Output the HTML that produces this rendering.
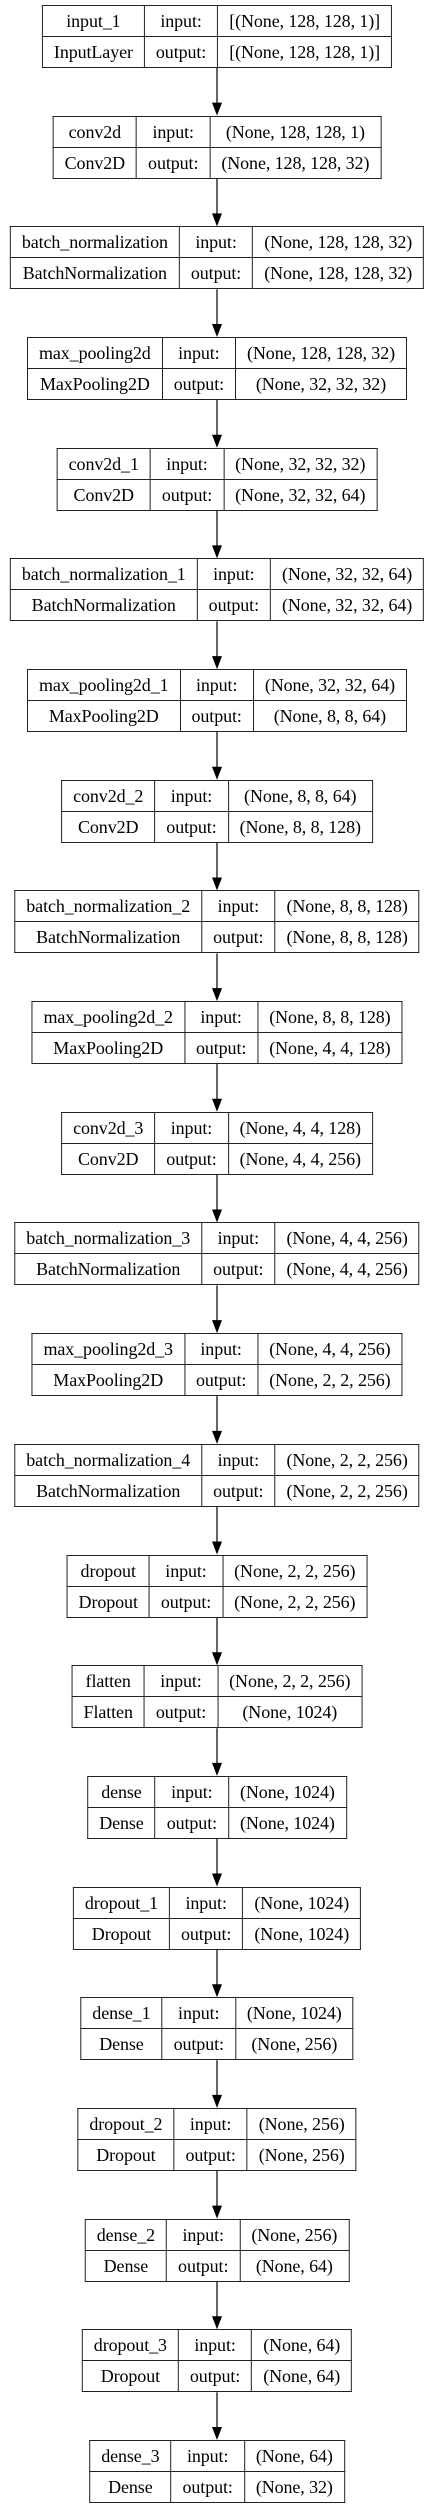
<!DOCTYPE html>
<html><head><meta charset="utf-8">
<style>
html,body{margin:0;padding:0;background:#fff;}
body{width:435px;height:2508px;position:relative;overflow:hidden;font-family:"Liberation Serif",serif;}
table.box{position:absolute;left:217px;transform:translateX(-50%);border-collapse:collapse;background:#fff;font-size:18px;color:#000;}
table.box td{border:1px solid #222;height:30px;line-height:30px;padding:0 11px;text-align:center;white-space:nowrap;letter-spacing:-0.1px;}
svg{position:absolute;left:0;top:0;}
</style></head>
<body>
<svg id="arrows" width="435" height="2508"></svg>
<script>
const layerNames=["input_1","conv2d","batch_normalization","max_pooling2d","conv2d_1","batch_normalization_1","max_pooling2d_1","conv2d_2","batch_normalization_2","max_pooling2d_2","conv2d_3","batch_normalization_3","max_pooling2d_3","batch_normalization_4","dropout","flatten","dense","dropout_1","dense_1","dropout_2","dense_2","dropout_3","dense_3"];
const layerTypes=["InputLayer","Conv2D","BatchNormalization","MaxPooling2D","Conv2D","BatchNormalization","MaxPooling2D","Conv2D","BatchNormalization","MaxPooling2D","Conv2D","BatchNormalization","MaxPooling2D","BatchNormalization","Dropout","Flatten","Dense","Dropout","Dense","Dropout","Dense","Dropout","Dense"];
const inputShapes=["[(None, 128, 128, 1)]","(None, 128, 128, 1)","(None, 128, 128, 32)","(None, 128, 128, 32)","(None, 32, 32, 32)","(None, 32, 32, 64)","(None, 32, 32, 64)","(None, 8, 8, 64)","(None, 8, 8, 128)","(None, 8, 8, 128)","(None, 4, 4, 128)","(None, 4, 4, 256)","(None, 4, 4, 256)","(None, 2, 2, 256)","(None, 2, 2, 256)","(None, 2, 2, 256)","(None, 1024)","(None, 1024)","(None, 1024)","(None, 256)","(None, 256)","(None, 64)","(None, 64)"];
const outputShapes=["[(None, 128, 128, 1)]","(None, 128, 128, 32)","(None, 128, 128, 32)","(None, 32, 32, 32)","(None, 32, 32, 64)","(None, 32, 32, 64)","(None, 8, 8, 64)","(None, 8, 8, 128)","(None, 8, 8, 128)","(None, 4, 4, 128)","(None, 4, 4, 256)","(None, 4, 4, 256)","(None, 2, 2, 256)","(None, 2, 2, 256)","(None, 2, 2, 256)","(None, 1024)","(None, 1024)","(None, 1024)","(None, 256)","(None, 256)","(None, 64)","(None, 64)","(None, 32)"];

const TOP0=5, PITCH=110.68, BOXH=63, CX=217;
const svg=document.getElementById('arrows');
const NS="http://www.w3.org/2000/svg";
function cell(tr,text,name){
  const td=document.createElement('td');
  td.textContent=text;
  
  
  tr.appendChild(td);
}
for(let i=0;i<layerNames.length;i++){
  const top=TOP0+i*PITCH;
  const t=document.createElement('table');
  t.className='box';
  t.style.top=top+'px';
  
  
  const r1=document.createElement('tr'), r2=document.createElement('tr');
  cell(r1,layerNames[i],'layer-name');
  cell(r1,'input:','input-label');
  cell(r1,inputShapes[i],'input-shape');
  cell(r2,layerTypes[i],'layer-type');
  cell(r2,'output:','output-label');
  cell(r2,outputShapes[i],'output-shape');
  t.appendChild(r1);t.appendChild(r2);
  document.body.appendChild(t);
  if(i<layerNames.length-1){
    const y1=top+BOXH, y2=TOP0+(i+1)*PITCH;
    const ln=document.createElementNS(NS,'line');
    ln.setAttribute('x1',CX);ln.setAttribute('x2',CX);
    ln.setAttribute('y1',y1);ln.setAttribute('y2',y2-12);
    ln.setAttribute('stroke','#000');ln.setAttribute('stroke-width','1.2');
    
    
    svg.appendChild(ln);
    const p=document.createElementNS(NS,'polygon');
    p.setAttribute('points',(CX-5)+','+(y2-13)+' '+(CX+5)+','+(y2-13)+' '+CX+','+y2);
    p.setAttribute('fill','#000');
    
    
    svg.appendChild(p);
  }
}
</script>
</body></html>
